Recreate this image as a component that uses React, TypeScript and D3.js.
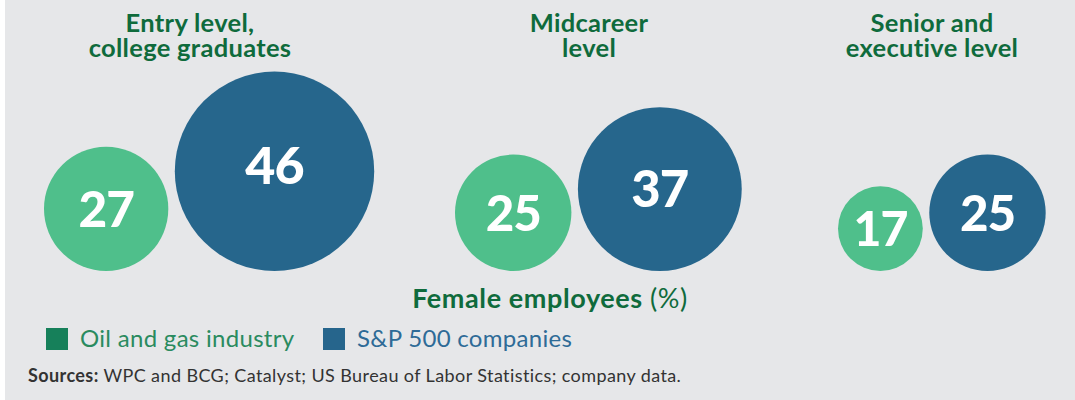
import React from "react";
import * as d3 from "d3";

const width = 1075;
const height = 400;

// data
const levels = [
  ["Entry level,", "college graduates"],
  ["Midcareer", "level"],
  ["Senior and", "executive level"],
];
const oilGas = [27, 25, 17];
const sp500 = [46, 37, 25];
const seriesNames = ["Oil and gas industry", "S&P 500 companies"];

// layout
const groupLeft = [44, 455, 838];
const titleX = [190, 589, 932];
const bottomY = 271;
const gap = 6.5;

const bg = "#e6e7e9";
const titleGreen = "#0f6b3c";
const circleGreen = "#4fbf8b";
const circleBlue = "#26668c";
const legendColors = ["#16805a", "#26658c"];
const legendText = ["#2a8b5f", "#2e6b97"];
const font = "Lato, 'Open Sans', sans-serif";

const r = d3.scaleLinear().domain([0, 46]).range([8.8, 99.7]);
const numSize = d3.scaleLinear().domain([40, 100]).range([48, 52]);

export default function App() {
  const groups = levels.map((lines, i) => {
    const rg = r(oilGas[i]);
    const rb = r(sp500[i]);
    const gx = groupLeft[i] + rg;
    const bx = groupLeft[i] + 2 * rg + gap + rb;
    return { lines, i, rg, rb, gx, bx };
  });

  return (
    <svg width={width} height={height} style={{ position: "absolute", left: 0, top: 0 }} fontFamily={font}>
      <rect x={0} y={0} width={width} height={height} fill="#fff" />
      <rect x={5} y={0} width={width - 5} height={height} fill={bg} />

      {groups.map(g => (
        <g key={g.i}>
          {g.lines.map((l, j) => (
            <text key={j} x={titleX[g.i]} y={32 + j * 25} textAnchor="middle"
              fontSize={25.5} fontWeight={700} letterSpacing={0.3} fill={titleGreen}>{l}</text>
          ))}
          <circle cx={g.gx} cy={bottomY - g.rg} r={g.rg} fill={circleGreen} />
          <circle cx={g.bx} cy={bottomY - g.rb} r={g.rb} fill={circleBlue} />
          <text x={g.gx} y={bottomY - g.rg + numSize(g.rg) * 0.36} textAnchor="middle"
            fontSize={numSize(g.rg)} fontWeight={900} fill="#fff" letterSpacing={-1}>{oilGas[g.i]}</text>
          <text x={g.bx} y={bottomY - g.rb + numSize(g.rb) * 0.36 - (g.rb > 90 ? 6 : 0)} textAnchor="middle"
            fontSize={numSize(g.rb)} fontWeight={900} fill="#fff" letterSpacing={-1}>{sp500[g.i]}</text>
        </g>
      ))}

      <text x={550} y={308} textAnchor="middle" fontSize={27} letterSpacing={0.6} fill={titleGreen}>
        <tspan fontWeight={700}>Female employees </tspan>
        <tspan fontWeight={400}>(%)</tspan>
      </text>

      {seriesNames.map((s, i) => {
        const x = [46, 323][i];
        return (
          <g key={s}>
            <rect x={x} y={328} width={22} height={22} fill={legendColors[i]} />
            <text x={x + 34} y={347} fontSize={24} letterSpacing={0.3} fill={legendText[i]}>{s}</text>
          </g>
        );
      })}

      <text x={28} y={382} fontSize={18} letterSpacing={0.4} fill="#333">
        <tspan fontWeight={700}>Sources:</tspan>
        <tspan> WPC and BCG; Catalyst; US Bureau of Labor Statistics; company data.</tspan>
      </text>
    </svg>
  );
}
